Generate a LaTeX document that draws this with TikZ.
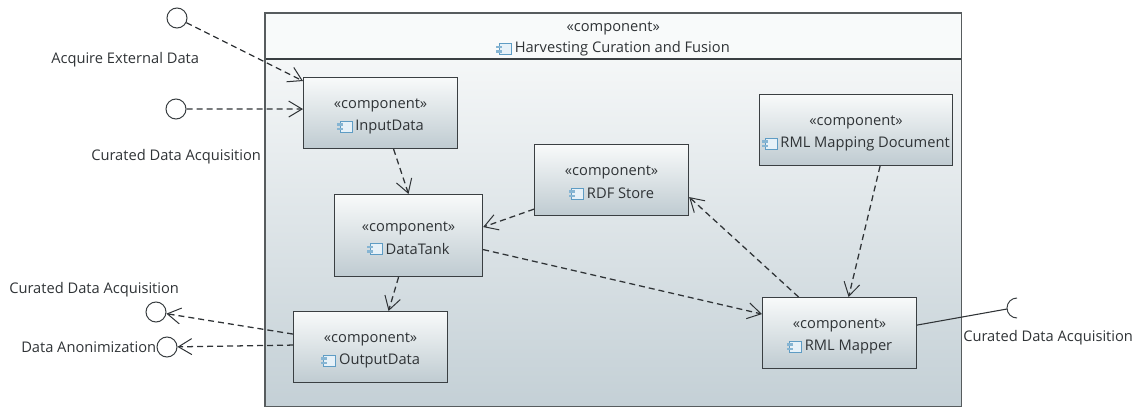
\documentclass[tikz,border=0pt]{standalone}
\usepackage{fontspec}
\setmainfont{Open Sans}
\usetikzlibrary{arrows.meta,calc}
\definecolor{ink}{HTML}{2F3336}
\definecolor{edge}{HTML}{3A3F42}
\definecolor{boxtop}{HTML}{F8FAFA}
\definecolor{boxbot}{HTML}{BFCBD1}
\definecolor{bodytop}{HTML}{FBFCFC}
\definecolor{bodybot}{HTML}{C4D0D6}
\definecolor{iconblue}{HTML}{5E9CC4}
\definecolor{iconfill}{HTML}{E6F1F8}
\tikzset{
  x=0.75pt,y=-0.75pt,
  comp/.style={draw=edge,line width=0.85pt,rectangle,top color=boxtop,bottom color=boxbot,minimum height=53.25pt,inner sep=0pt,anchor=north west},
  txt/.style={font=\fontsize{11pt}{13pt}\selectfont,text=ink,inner sep=0pt},
  iface/.style={draw=edge,line width=0.75pt,circle,fill=white,minimum size=15pt,inner sep=0pt},
  dep/.style={draw=ink,line width=0.95pt,dash pattern=on 4.5pt off 3pt,-{Straight Barb[length=10pt,width=12pt,line width=0.75pt]}},
  compicon/.pic={
    \draw[iconblue,line width=0.6pt,fill=iconfill] (-12,-5.5) rectangle (0,5.5);
    \fill[iconblue!75] (-15,-3.5) rectangle (-9,-0.8);
    \fill[iconblue!75] (-15,1) rectangle (-9,3.7);
  }
}
\begin{document}
\begin{tikzpicture}
\useasboundingbox (0,0) rectangle (1140,407);
% outer component
\node[rectangle,anchor=north west,minimum width=522pt,minimum height=294.75pt,inner sep=0pt,top color=bodytop,bottom color=bodybot] (outer) at (265,13) {};
\path[fill=boxtop] (outer.north west) rectangle ([shift={(0,46)}]outer.north east);
\draw[edge,line width=0.85pt] (outer.north west) -- (outer.north east);
\draw[edge,line width=0.85pt] ([shift={(0,46)}]outer.north west) -- ([shift={(0,46)}]outer.north east);
\draw[edge!85,line width=0.9pt] (outer.north west) rectangle (outer.south east);
\node[txt] (outerst) at ([shift={(0,15)}]outer.north) {«component»};
\node[txt] (outerlab) at ([shift={(9,36)}]outer.north) {Harvesting Curation and Fusion};
\pic at ([shift={(-3,0)}]outerlab.west) {compicon};
% components
\node[comp,minimum width=115.5pt] (in) at (303,77) {};
\node[comp,minimum width=111pt,minimum height=61.5pt] (tank) at (334,194) {};
\node[comp,minimum width=115.5pt] (out) at (293,311) {};
\node[comp,minimum width=115.5pt] (rdf) at (534,144) {};
\node[comp,minimum width=144.75pt] (doc) at (759,94) {};
\node[comp,minimum width=115.5pt] (map) at (762,297) {};
\foreach \n/\t in {in/InputData,tank/DataTank,out/OutputData,rdf/RDF Store,doc/RML Mapping Document,map/RML Mapper}{
  \node[txt] (\n st) at ([shift={(0,-7.5)}]\n.center) {«component»};
  \node[txt] (\n lab) at ([shift={(9,13.5)}]\n.center) {\t};
  \pic at ([shift={(-3,0)}]\n lab.west) {compicon};
}
% interfaces
\node[iface] (c1) at (177,18) {};
\node[iface] (c2) at (176,109) {};
\node[iface] (c3) at (156,312) {};
\node[iface] (c4) at (167,347) {};
% labels
\node[txt,anchor=west] (l1) at (51,60) {Acquire External Data};
\node[txt,anchor=west] (l2) at (91,157) {Curated Data Acquisition};
\node[txt,anchor=west] (l3) at (9,290) {Curated Data Acquisition};
\node[txt,anchor=west] (l4) at (21,347) {Data Anonimization};
\node[txt,anchor=west] (l5) at (963,338) {Curated Data Acquisition};
% dependencies
\draw[dep] (c1) -- ([shift={(0,4)}]in.north west);
\draw[dep] (c2) -- ([shift={(0,-4)}]in.west);
\draw[dep] ([shift={(13,0)}]in.south) -- (tank.north);
\draw[dep] ([shift={(0,-7)}]rdf.south west) -- ([shift={(0,-8.5)}]tank.east);
\draw[dep] ([shift={(0,14)}]tank.east) -- ([shift={(0,-19)}]map.west);
\draw[dep] ([shift={(-41,0)}]map.north) -- ([shift={(0,17)}]rdf.east);
\draw[dep] ([shift={(24,0)}]doc.south) -- ([shift={(9,0)}]map.north);
\draw[dep] ([shift={(-10,0)}]tank.south) -- ([shift={(18,0)}]out.north);
\draw[dep] ([shift={(0,-13)}]out.west) -- (c3);
\draw[dep] ([shift={(0,-2)}]out.west) -- (c4);
% required interface
\coordinate (sock) at (1007,309);
\draw[ink,line width=0.8pt] ([shift={(0,-8)}]map.east) -- (sock);
\draw[edge,line width=0.75pt] (1017,298) arc[start angle=90,end angle=270,x radius=7.5pt,y radius=7.5pt];
\end{tikzpicture}
\end{document}
